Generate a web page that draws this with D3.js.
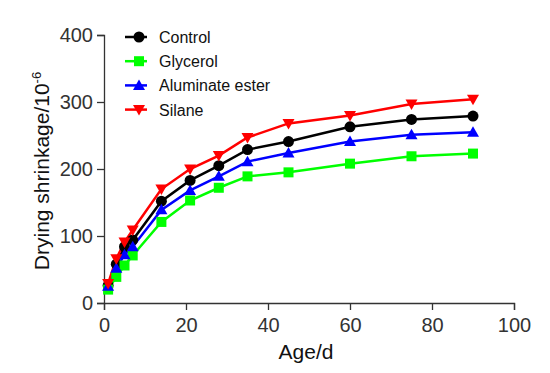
<!DOCTYPE html>
<html>
<head>
<meta charset="utf-8">
<script src="https://cdn.jsdelivr.net/npm/d3@7"></script>
<style>
body { margin: 0; background: #fff; }
text { font-family: "Liberation Sans", Arial, sans-serif; }
</style>
</head>
<body>
<div id="chart"></div>
<script>
// drying shrinkage data
var days = [1, 3, 5, 7, 14, 21, 28, 35, 45, 60, 75, 90];
var control = [26, 58, 84, 94, 152, 183, 205, 229, 241, 263, 274, 279];
var glycerol = [20, 39, 56, 71, 121, 153, 172, 189, 195, 208, 219, 223];
var aluminate = [25, 52, 72, 84, 139, 168, 189, 211, 224, 241, 251, 255];
var silane = [29, 66, 91, 109, 170, 200, 220, 247, 268, 280, 297, 304];
var xTicks = [0, 20, 40, 60, 80, 100];
var yTicks = [0, 100, 200, 300, 400];

var series = [
    { name: "Control", values: control, color: "#000000", shape: "circle" },
    { name: "Glycerol", values: glycerol, color: "#00ff00", shape: "square" },
    { name: "Aluminate ester", values: aluminate, color: "#0000ff", shape: "up" },
    { name: "Silane", values: silane, color: "#ff0000", shape: "down" }
];

var width = 550, height = 373;
var margin = { top: 35, right: 36, bottom: 70, left: 104 };

var svg = d3.select("#chart").append("svg")
    .attr("width", width)
    .attr("height", height);

var x = d3.scaleLinear().domain([0, 100]).range([margin.left, width - margin.right]);
var y = d3.scaleLinear().domain([0, 400]).range([height - margin.bottom, margin.top]);

function marker(sel, shape, color) {
    if (shape === "circle") {
        sel.append("circle").attr("r", 5.5).attr("fill", color);
    } else if (shape === "square") {
        sel.append("rect").attr("x", -5).attr("y", -5).attr("width", 10).attr("height", 10).attr("fill", color);
    } else if (shape === "up") {
        sel.append("path").attr("d", "M0,-6L6,4.5L-6,4.5Z").attr("fill", color);
    } else {
        sel.append("path").attr("d", "M0,6L6,-4.5L-6,-4.5Z").attr("fill", color);
    }
}

// axes
var xAxis = svg.append("g")
    .attr("transform", `translate(0,${y(0)})`)
    .call(d3.axisBottom(x).tickValues(xTicks).tickSize(7).tickPadding(8));
var yAxis = svg.append("g")
    .attr("transform", `translate(${x(0)},0)`)
    .call(d3.axisLeft(y).tickValues(yTicks).tickSize(7).tickPadding(4));

[xAxis, yAxis].forEach(a => {
    a.select(".domain").attr("stroke", "#333").attr("stroke-width", 1.3);
    a.selectAll(".tick line").attr("stroke", "#333").attr("stroke-width", 1.3);
    a.selectAll(".tick text").attr("fill", "#333").style("font-size", "20px");
});

// lines and markers
var line = d3.line()
    .x((d, i) => x(days[i]))
    .y(d => y(d));

series.forEach(s => {
    svg.append("path")
        .datum(s.values)
        .attr("fill", "none")
        .attr("stroke", s.color)
        .attr("stroke-width", 2.5)
        .attr("d", line);
});

series.forEach(s => {
    s.values.forEach((v, i) => {
        var g = svg.append("g").attr("transform", `translate(${x(days[i])},${y(v)})`);
        marker(g, s.shape, s.color);
    });
});

// legend
var legend = svg.append("g").attr("transform", "translate(125,37)");
series.forEach((s, i) => {
    var row = legend.append("g").attr("transform", `translate(0,${i * 24.2})`);
    row.append("line").attr("x1", 0).attr("x2", 22).attr("stroke", s.color).attr("stroke-width", 2.5);
    var m = row.append("g").attr("transform", "translate(14,0)");
    marker(m, s.shape, s.color);
    row.append("text")
        .attr("x", 34).attr("y", 6)
        .attr("fill", "#111")
        .style("font-size", "16px")
        .text(s.name);
});

// axis titles
svg.append("text")
    .attr("x", x(50) - 3).attr("y", 359)
    .attr("text-anchor", "middle")
    .attr("fill", "#111")
    .style("font-size", "21px")
    .text("Age/d");

var yt = svg.append("text")
    .attr("transform", `translate(49,${y(200) + 2})rotate(-90)`)
    .attr("text-anchor", "middle")
    .attr("fill", "#111")
    .style("font-size", "21px");
yt.append("tspan").text("Drying shrinkage/10");
yt.append("tspan").attr("dy", -8).style("font-size", "13px").text("-6");
</script>
</body>
</html>
